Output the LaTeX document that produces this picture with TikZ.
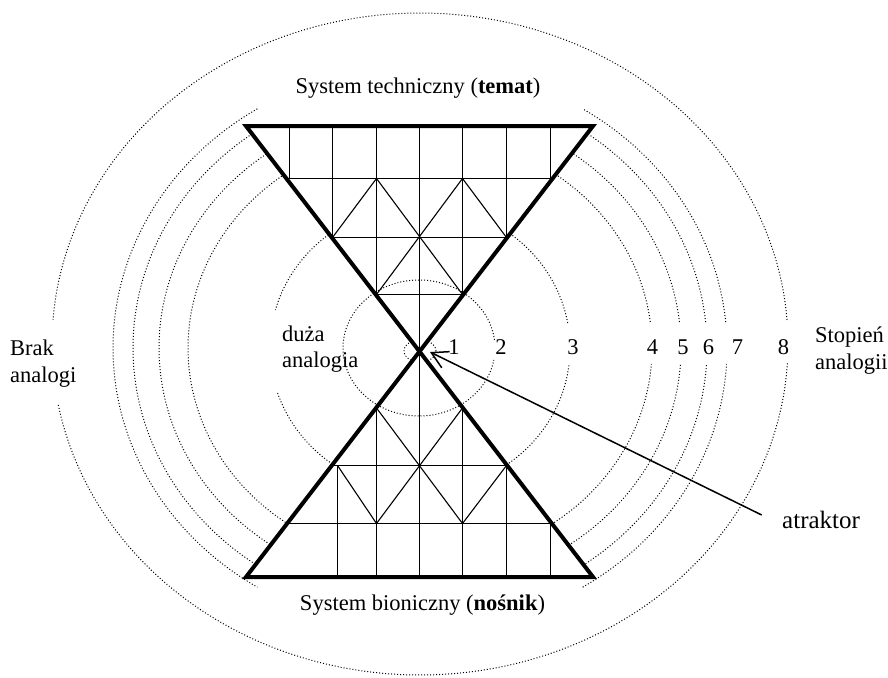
\documentclass[tikz,border=0pt]{standalone}
\usepackage{fontspec}
\setmainfont{Liberation Serif}
\usetikzlibrary{arrows.meta}
\newcommand{\ringarc}[6]{\draw[ring] plot[domain=#5:#6,samples=260] ({#1+#3*cos(\x)},{#2-#4*sin(\x)});}
\begin{document}
\begin{tikzpicture}[x=1pt,y=-1pt,
  ring/.style={line width=1pt, dash pattern=on 1pt off 2pt, black},
  gridline/.style={line width=1.1pt, black},
  edgeline/.style={line width=4pt, line join=miter, black},
  lbl/.style={inner sep=0pt, font=\fontsize{22.5}{27}\selectfont},
  pointer/.style={line width=1.5pt, -{Straight Barb[length=16pt,width=18pt]}},
]
\useasboundingbox (0,0) rectangle (888,677);

% ---- rings hidden inside the triangles ----
\ringarc{420}{351}{16}{11}{0}{360}
\ringarc{420}{348}{150}{143}{10.07}{164.59}
\ringarc{420}{348}{150}{143}{198.34}{353.17}
\ringarc{420}{348}{232}{214}{6.98}{355.71}
\ringarc{420}{348}{261}{240}{6.22}{60}
\ringarc{420}{348}{261}{240}{120}{240}
\ringarc{420}{348}{261}{240}{300}{356.18}
\ringarc{420}{348}{287}{264}{5.65}{56}
\ringarc{420}{348}{287}{264}{124}{236}
\ringarc{420}{348}{287}{264}{304}{356.53}
\ringarc{420}{348}{307}{282}{5.29}{58}
\ringarc{420}{348}{307}{282}{122}{238}
\ringarc{420}{348}{307}{282}{302}{356.75}
\ringarc{420}{344}{368}{331}{4.16}{175.84}
\ringarc{420}{344}{368}{331}{190.62}{356.71}

% ---- triangle corners ----
\coordinate (A) at (419.5,351.5);
\coordinate (TL) at (246,126);
\coordinate (TR) at (593,126);
\coordinate (BL) at (246,577);
\coordinate (BR) at (593,577);

\fill[white] (TL) -- (TR) -- (A) -- cycle;
\fill[white] (BL) -- (BR) -- (A) -- cycle;

% ---- ring 2 (visible across the triangles) ----
\ringarc{419}{348}{76}{68}{6.76}{349.84}

% ---- grid of the upper triangle ----
\draw[gridline] (286.0,178.5) -- (553.0,178.5);
\draw[gridline] (331.4,237.5) -- (507.6,237.5);
\draw[gridline] (375.3,294.5) -- (463.7,294.5);
\draw[gridline] (419.5,126) -- (419.5,577);
\draw[gridline] (376.5,126) -- (376.5,294.5);
\draw[gridline] (462.5,126) -- (462.5,294.5);
\draw[gridline] (332.5,126) -- (332.5,237.5);
\draw[gridline] (506.5,126) -- (506.5,237.5);
\draw[gridline] (289.5,126) -- (289.5,178.5);
\draw[gridline] (550.5,126) -- (550.5,178.5);
\draw[gridline] (376.5,178.5) -- (462.5,294.5);
\draw[gridline] (462.5,178.5) -- (376.5,294.5);
\draw[gridline] (376.5,178.5) -- (332.5,237.5);
\draw[gridline] (462.5,178.5) -- (506.5,237.5);

% ---- grid of the lower triangle ----
\draw[gridline] (331.8,465.5) -- (507.2,465.5);
\draw[gridline] (286.8,523.5) -- (552.2,523.5);
\draw[gridline] (376.5,408) -- (376.5,577);
\draw[gridline] (462.5,408) -- (462.5,577);
\draw[gridline] (337.5,465.5) -- (337.5,577);
\draw[gridline] (506.5,465.5) -- (506.5,577);
\draw[gridline] (550.5,523.5) -- (550.5,577);
\draw[gridline] (376.5,408) -- (462.5,523.5);
\draw[gridline] (462.5,408) -- (376.5,523.5);
\draw[gridline] (337.5,465.5) -- (376.5,523.5);
\draw[gridline] (506.5,465.5) -- (462.5,523.5);

% ---- thick outlines ----
\draw[edgeline] (TL) -- (TR) -- (A) -- cycle;
\draw[edgeline] (BL) -- (BR) -- (A) -- cycle;

% ---- texts ----
\node[lbl, anchor=base] (top) at (418,93) {System techniczny (\textbf{temat})};
\node[lbl, anchor=base] (bottom) at (422.5,610) {System bioniczny (\textbf{nośnik})};
\node[lbl, anchor=base west] (brak1) at (10,355) {Brak};
\node[lbl, anchor=base west] (brak2) at (10,382) {analogi};
\node[lbl, anchor=base west] (duza1) at (282,341) {duża};
\node[lbl, anchor=base west] (duza2) at (282,367) {analogia};
\node[lbl, anchor=base west] (stop1) at (815,342) {Stopień};
\node[lbl, anchor=base west] (stop2) at (815,369) {analogii};
\node[lbl, anchor=base west, font=\fontsize{25}{30}\selectfont] (atr) at (782,528) {atraktor};

\node[lbl, anchor=base] (n1) at (454,354) {1};
\node[lbl, anchor=base] (n2) at (501,354) {2};
\node[lbl, anchor=base] (n3) at (573,354) {3};
\node[lbl, anchor=base] (n4) at (652.5,354) {4};
\node[lbl, anchor=base] (n5) at (683,354) {5};
\node[lbl, anchor=base] (n6) at (708.5,354) {6};
\node[lbl, anchor=base] (n7) at (737.5,354) {7};
\node[lbl, anchor=base] (n8) at (783.5,354) {8};

% ---- attractor arrow ----
\coordinate (tail) at (761.7,515);
\coordinate (tip) at (430,352);
\draw[pointer] (tail) -- (tip);
\end{tikzpicture}
\end{document}
